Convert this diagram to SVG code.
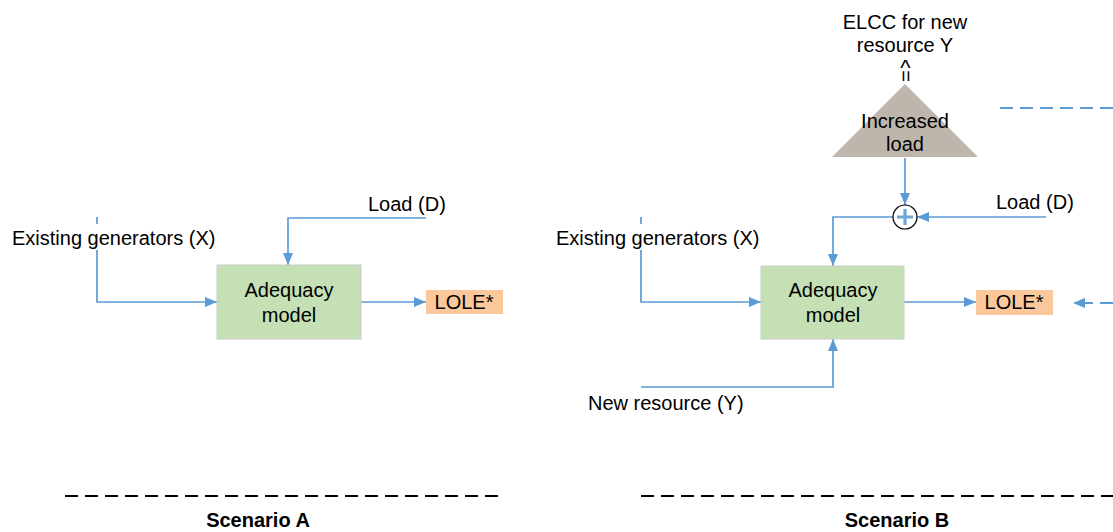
<svg xmlns="http://www.w3.org/2000/svg" width="1113" height="532" viewBox="0 0 1113 532">
<defs>
<style>
.t{font-family:"Liberation Sans",Arial,sans-serif;font-size:20px;fill:#000}
.m{text-anchor:middle}
.b{font-weight:bold;font-size:19px}
.ln{fill:none;stroke:#5B9BD5;stroke-width:1.7}
.dl{fill:none;stroke:#5B9BD5;stroke-width:1.8;stroke-dasharray:13 7}
.sep{fill:none;stroke:#000;stroke-width:2;stroke-dasharray:13 7}
.box{fill:#C5E0B4;stroke:#C9CDC6;stroke-width:1}
.lole{fill:#FCC89B}
</style>
<marker id="ah" viewBox="0 0 12 10" refX="12" refY="5" markerWidth="12" markerHeight="10" markerUnits="userSpaceOnUse" orient="auto">
<path d="M0,0 L12,5 L0,10 z" fill="#5B9BD5"/>
</marker>
</defs>
<rect width="1113" height="532" fill="#fff"/>

<g id="connectors">
<path class="ln" d="M97,217 V302 H217" marker-end="url(#ah)"/>
<path class="ln" d="M426,218 H288 V265" marker-end="url(#ah)"/>
<path class="ln" d="M361,302 H426" marker-end="url(#ah)"/>
<path class="ln" d="M641,217 V302 H761" marker-end="url(#ah)"/>
<path class="ln" d="M1046,217 H917" marker-end="url(#ah)"/>
<path class="ln" d="M905,158 V205" marker-end="url(#ah)"/>
<path class="ln" d="M893,217 H833 V266" marker-end="url(#ah)"/>
<path class="ln" d="M904,302 H976" marker-end="url(#ah)"/>
<path class="ln" d="M641,387 H833 V339" marker-end="url(#ah)"/>
<path class="dl" d="M1113,303 H1073" marker-end="url(#ah)"/>
<path class="dl" d="M1000,108 H1113"/>
</g>

<g id="sepA"><path class="sep" d="M65,496 H498"/></g>
<g id="sepB"><path class="sep" d="M641,496 H1113"/></g>

<g id="existingA">
<rect x="10" y="224" width="210" height="26" fill="#fff"/>
<text class="t" x="12" y="245">Existing generators (X)</text>
</g>
<g id="loadA"><text class="t" x="368" y="211">Load (D)</text></g>
<g id="adequacyA">
<rect class="box" x="217" y="265" width="144" height="74"/>
<text class="t m" x="289" y="297">Adequacy</text>
<text class="t m" x="289" y="322">model</text>
</g>
<g id="loleA">
<rect class="lole" x="426" y="290" width="77" height="24"/>
<text class="t m" x="464" y="309">LOLE*</text>
</g>
<g id="scenarioA"><text class="t b m" x="258" y="527" style="font-size:20px">Scenario A</text></g>

<g id="existingB">
<rect x="554" y="224" width="210" height="26" fill="#fff"/>
<text class="t" x="556" y="245">Existing generators (X)</text>
</g>
<g id="loadB"><text class="t" x="996" y="209">Load (D)</text></g>
<g id="sum">
<circle cx="905" cy="217" r="12" fill="none" stroke="#000" stroke-width="1.2"/>
<path d="M897,217 H913 M905,209 V225" stroke="#6FA6DA" stroke-width="3.2" fill="none"/>
</g>
<g id="adequacyB">
<rect class="box" x="761" y="266" width="143" height="73"/>
<text class="t m" x="833" y="297">Adequacy</text>
<text class="t m" x="833" y="322">model</text>
</g>
<g id="loleB">
<rect class="lole" x="976" y="290" width="77" height="25"/>
<text class="t m" x="1014" y="309">LOLE*</text>
</g>
<g id="newres"><text class="t" x="588" y="410">New resource (Y)</text></g>
<g id="increased">
<polygon points="905,84 978,157 832,157" fill="#BEB6AC"/>
<text class="t m" x="905" y="128">Increased</text>
<text class="t m" x="905" y="151">load</text>
</g>
<g id="elcc">
<text class="t m" x="905" y="29">ELCC for new</text>
<text class="t m" x="905" y="52">resource Y</text>
<text class="t m" x="905.5" y="75" style="font-size:22px">^</text>
<text class="t m" transform="translate(905.5,76) rotate(90)" x="0" y="7" style="font-size:20px">=</text>
</g>
<g id="scenarioB"><text class="t b m" x="897" y="527" style="font-size:20px">Scenario B</text></g>
</svg>
